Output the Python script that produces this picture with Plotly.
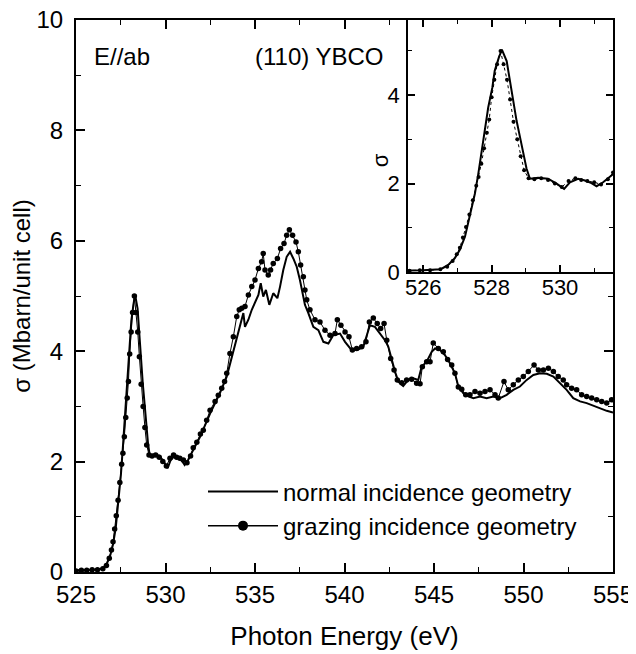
import plotly.graph_objects as go

# ---------------- data ----------------
energy_normal = [525.0, 525.5, 526.0, 526.5, 526.73, 526.92, 527.07, 527.22, 527.31, 527.41,
                 527.51, 527.61, 527.70, 527.80, 527.90, 528.02, 528.09, 528.21, 528.30, 528.44,
                 528.53, 528.63, 528.73, 528.83, 528.92, 529.02, 529.12, 529.36, 529.65, 529.90,
                 530.12, 530.29, 530.53, 530.73, 530.92, 531.07, 531.26, 531.46, 531.93, 532.49,
                 533.04, 533.42, 533.70, 533.98, 534.16, 534.35, 534.44, 534.63, 534.82, 535.00,
                 535.19, 535.32, 535.46, 535.61, 535.80, 536.02, 536.25, 536.40, 536.58, 536.77,
                 536.96, 537.14, 537.33, 537.51, 537.70, 537.79, 537.98, 538.26, 538.54, 538.82,
                 539.10, 539.37, 539.75, 540.03, 540.40, 540.77, 541.05, 541.24, 541.42, 541.70,
                 541.98, 542.26, 542.45, 542.64, 542.82, 543.01, 543.28, 543.56, 543.84, 544.12,
                 544.31, 544.59, 544.87, 545.06, 545.34, 545.61, 545.89, 546.17, 546.36, 546.64,
                 546.92, 547.20, 547.57, 547.94, 548.31, 548.69, 549.06, 549.43, 549.80, 550.18,
                 550.55, 550.92, 551.30, 551.67, 552.04, 552.41, 552.78, 553.16, 553.53, 553.90,
                 554.27, 554.65, 555.00]
sigma_normal = [0.03, 0.03, 0.04, 0.06, 0.16, 0.31, 0.50, 0.80, 1.10, 1.40,
                1.77, 2.22, 2.67, 3.27, 3.72, 4.17, 4.55, 4.85, 5.03, 4.77,
                4.32, 3.87, 3.42, 3.05, 2.67, 2.34, 2.11, 2.13, 2.11, 2.00,
                1.88, 2.03, 2.11, 2.07, 2.01, 1.94, 2.03, 2.15, 2.45, 2.87,
                3.24, 3.54, 3.90, 4.26, 4.44, 4.69, 4.44, 4.57, 4.75, 4.87,
                5.02, 5.23, 4.99, 5.11, 4.84, 5.05, 4.96, 5.17, 5.47, 5.71,
                5.80, 5.68, 5.53, 5.29, 4.99, 4.84, 4.69, 4.44, 4.38, 4.17,
                4.14, 4.29, 4.32, 4.17, 4.02, 4.03, 4.08, 4.26, 4.47, 4.44,
                4.32, 4.20, 4.08, 3.84, 3.63, 3.45, 3.37, 3.48, 3.51, 3.48,
                3.72, 3.81, 3.99, 4.05, 4.02, 3.93, 3.78, 3.60, 3.36, 3.24,
                3.18, 3.15, 3.18, 3.15, 3.18, 3.15, 3.21, 3.30, 3.36, 3.48,
                3.57, 3.60, 3.59, 3.54, 3.42, 3.30, 3.15, 3.09, 3.06, 3.01,
                2.97, 2.92, 2.89]

energy_grazing = [525.0, 525.3, 525.6, 525.9, 526.2, 526.5, 526.7, 526.86, 526.98, 527.07,
                  527.16, 527.25, 527.35, 527.45, 527.55, 527.62, 527.70, 527.78, 527.86, 527.93,
                  528.00, 528.08, 528.16, 528.26, 528.35, 528.45, 528.54, 528.64, 528.75, 528.85,
                  528.95, 529.08, 529.25, 529.45, 529.65, 529.85, 530.05, 530.25, 530.45, 530.62,
                  530.80, 531.00, 531.20, 531.40, 531.55, 531.75, 531.95, 532.11, 532.30, 532.49,
                  532.77, 532.95, 533.14, 533.30, 533.42, 533.60, 533.79, 533.98, 534.12, 534.26,
                  534.44, 534.63, 534.82, 535.00, 535.19, 535.37, 535.46, 535.56, 535.74, 535.87,
                  536.02, 536.25, 536.43, 536.62, 536.77, 536.92, 537.10, 537.29, 537.42, 537.55,
                  537.70, 537.79, 537.89, 538.07, 538.35, 538.63, 538.91, 539.19, 539.47, 539.60,
                  539.80, 540.03, 540.25, 540.44, 540.68, 540.96, 541.20, 541.39, 541.61, 541.83,
                  542.02, 542.21, 542.36, 542.58, 542.77, 542.95, 543.20, 543.47, 543.75, 544.03,
                  544.22, 544.35, 544.59, 544.78, 544.96, 545.24, 545.52, 545.76, 545.99, 546.17,
                  546.36, 546.55, 546.77, 547.01, 547.29, 547.57, 547.85, 548.13, 548.41, 548.59,
                  548.91, 549.15, 549.43, 549.71, 549.99, 550.27, 550.59, 550.83, 551.11, 551.39,
                  551.67, 551.94, 552.22, 552.41, 552.69, 552.97, 553.25, 553.53, 553.81, 554.09,
                  554.37, 554.65, 554.92]
sigma_grazing = [0.02, 0.03, 0.03, 0.04, 0.04, 0.06, 0.12, 0.25, 0.40, 0.55,
                 0.78, 1.02, 1.30, 1.62, 1.95, 2.15, 2.45, 2.80, 3.15, 3.45,
                 3.95, 4.35, 4.70, 5.00, 4.70, 4.35, 3.90, 3.40, 3.00, 2.62,
                 2.30, 2.12, 2.10, 2.12, 2.08, 2.00, 1.92, 2.06, 2.12, 2.08,
                 2.06, 2.03, 1.98, 2.10, 2.25, 2.35, 2.50, 2.57, 2.75, 2.93,
                 3.09, 3.20, 3.33, 3.45, 3.60, 3.96, 4.26, 4.63, 4.75, 4.78,
                 4.81, 5.02, 5.17, 5.29, 5.50, 5.62, 5.77, 5.47, 5.38, 5.47,
                 5.59, 5.68, 5.86, 5.95, 6.10, 6.20, 6.10, 5.98, 5.80, 5.56,
                 5.35, 5.11, 4.93, 4.75, 4.57, 4.53, 4.38, 4.29, 4.32, 4.57,
                 4.47, 4.35, 4.26, 4.02, 4.05, 4.08, 4.17, 4.53, 4.60, 4.50,
                 4.41, 4.50, 4.20, 3.87, 3.66, 3.48, 3.43, 3.48, 3.49, 3.42,
                 3.41, 3.72, 3.81, 3.81, 4.15, 4.05, 3.99, 3.85, 3.75, 3.60,
                 3.35, 3.31, 3.21, 3.21, 3.27, 3.24, 3.27, 3.30, 3.21, 3.15,
                 3.45, 3.30, 3.39, 3.48, 3.54, 3.63, 3.75, 3.66, 3.66, 3.69,
                 3.63, 3.54, 3.48, 3.39, 3.33, 3.30, 3.21, 3.18, 3.15, 3.12,
                 3.09, 3.06, 3.12]

main_xticks = [525, 530, 535, 540, 545, 550, 555]
main_yticks = [0, 2, 4, 6, 8, 10]
inset_xticks = [526, 528, 530]
inset_yticks = [0, 2, 4]

label_normal = "normal incidence geometry"
label_grazing = "grazing incidence geometry"
x_title = "Photon Energy (eV)"
y_title = "σ (Mbarn/unit cell)"
inset_y_title = "σ"
note_left = "E//ab"
note_right = "(110) YBCO"

# ---------------- figure ----------------
FONT = "Arial, Liberation Sans, sans-serif"
fig = go.Figure()

# main panel
fig.add_trace(go.Scatter(x=energy_normal, y=sigma_normal, mode="lines",
                         line=dict(color="black", width=2), showlegend=False,
                         xaxis="x", yaxis="y"))
fig.add_trace(go.Scatter(x=energy_grazing, y=sigma_grazing, mode="lines+markers",
                         line=dict(color="black", width=1),
                         marker=dict(color="black", size=5.5), showlegend=False,
                         xaxis="x", yaxis="y"))
# legend entries
fig.add_trace(go.Scatter(x=[None], y=[None], mode="lines", name=label_normal,
                         line=dict(color="black", width=2), xaxis="x", yaxis="y"))
fig.add_trace(go.Scatter(x=[None], y=[None], mode="lines+markers", name=label_grazing,
                         line=dict(color="black", width=1.5),
                         marker=dict(color="black", size=10), xaxis="x", yaxis="y"))

# inset
fig.add_trace(go.Scatter(x=energy_normal, y=sigma_normal, mode="lines",
                         line=dict(color="black", width=2), showlegend=False,
                         xaxis="x2", yaxis="y2"))
fig.add_trace(go.Scatter(x=energy_grazing, y=sigma_grazing, mode="lines+markers",
                         line=dict(color="black", width=1, dash="dot"),
                         marker=dict(color="black", size=4), showlegend=False,
                         xaxis="x2", yaxis="y2"))

axis_common = dict(showgrid=False, zeroline=False, showline=True, linecolor="black",
                   linewidth=2, mirror="allticks", ticks="inside", tickcolor="black",
                   tickwidth=1.5, ticklen=9, automargin=False, ticklabeloverflow="allow")

inset_common = {**axis_common, "linewidth": 1.5, "ticklen": 7}

# the page body adds an 8 px offset, so the figure is 8 px smaller than the window
fig.update_layout(
    width=628, height=646,
    paper_bgcolor="white", plot_bgcolor="white",
    margin=dict(l=68, r=23, t=12, b=82),
    font=dict(family=FONT, color="black", size=22),
    xaxis=dict(domain=[0, 1], range=[525, 555], tickvals=main_xticks,
               tickfont=dict(size=24), ticklabelstandoff=0,
               title=dict(text=x_title, font=dict(size=26), standoff=20),
               minor=dict(ticks="inside", ticklen=5, tickwidth=1.2, tickcolor="black",
                          dtick=2.5, tick0=525),
               **axis_common),
    yaxis=dict(domain=[0, 1], range=[0, 10], tickvals=main_yticks,
               tickfont=dict(size=24), ticklabelstandoff=6,
               title=dict(text=y_title, font=dict(size=24), standoff=0),
               minor=dict(ticks="inside", ticklen=5, tickwidth=1.2, tickcolor="black",
                          dtick=1, tick0=0),
               **axis_common),
    xaxis2=dict(domain=[0.618, 1], range=[525.55, 531.55], tickvals=inset_xticks,
                anchor="y2", tickfont=dict(size=22), ticklabelstandoff=-5,
                minor=dict(ticks="inside", ticklen=4, tickwidth=1, tickcolor="black",
                           dtick=1, tick0=525),
                **inset_common),
    yaxis2=dict(domain=[0.5435, 1], range=[0, 5.7], tickvals=inset_yticks,
                anchor="x2", tickfont=dict(size=22), ticklabelstandoff=2,
                minor=dict(ticks="inside", ticklen=4, tickwidth=1, tickcolor="black",
                           dtick=1, tick0=0),
                **inset_common),
    legend=dict(x=0.2365, y=0.186, xanchor="left", yanchor="top",
                bgcolor="rgba(0,0,0,0)", font=dict(size=24),
                itemwidth=70, tracegroupgap=0),
    annotations=[
        dict(text=note_left, x=0.03, y=0.933, xref="paper", yref="paper",
             xanchor="left", yanchor="middle", showarrow=False, font=dict(size=24)),
        dict(text=note_right, x=0.33, y=0.933, xref="paper", yref="paper",
             xanchor="left", yanchor="middle", showarrow=False, font=dict(size=24)),
        dict(text=inset_y_title, x=0.566, y=0.746, xref="paper", yref="paper",
             xanchor="center", yanchor="middle", textangle=-90, showarrow=False,
             font=dict(size=22)),
    ],
)

fig.write_html("out.html")
